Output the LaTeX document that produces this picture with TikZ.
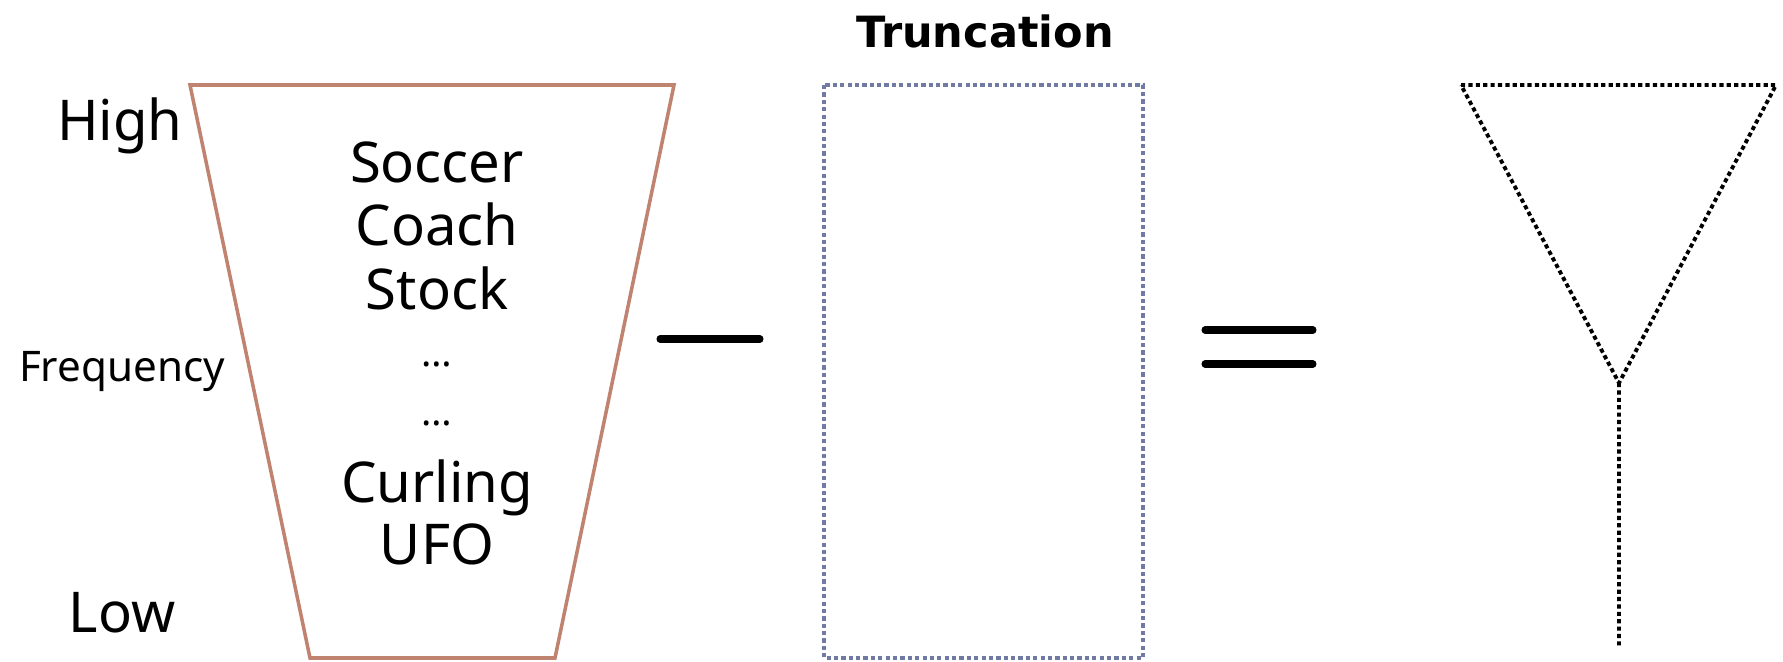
\documentclass[tikz,border=0pt]{standalone}
\usepackage{fontspec}
\setmainfont{Noto Sans}
\newfontfamily\titulo{DejaVu Sans}
\definecolor{embudo}{RGB}{191,131,112}
\definecolor{corte}{RGB}{112,122,163}

\begin{document}
\begin{tikzpicture}[x=0.02cm,y=-0.02cm,line width=2pt,
  palabra/.style={anchor=base,inner sep=0pt,font=\fontsize{32}{38}\selectfont},
  puntos/.style={palabra,font=\fontsize{22}{26}\selectfont},
  punteado/.style={dash pattern=on 2.4pt off 1.8pt},
  signo/.style={line width=4pt,line cap=round}]
  \useasboundingbox (0,0) rectangle (1783,662);
  % embudo de palabras (frecuencia)
  \coordinate (TL) at (190,85);  \coordinate (TR) at (674,85);
  \coordinate (BR) at (555,658); \coordinate (BL) at (310,658);
  \draw[embudo,line join=miter] (TL)--(TR)--(BR)--(BL)--cycle;
  \foreach \w/\y [count=\i] in {Soccer/183,Coach/246,Stock/310,Curling/502,UFO/564}
    \node[palabra] (w\i) at (437,\y) {\w};
  \node[puntos] (d1) at (437,367) {…};
  \node[puntos] (d2) at (437,425) {…};
  \node[palabra] (high) at (120,141) {High};
  \node[palabra,font=\fontsize{24}{28}\selectfont] (freq) at (122,381) {Frequency};
  \node[palabra] (low) at (122,632) {Low};
  % signo menos
  \coordinate (m1) at (660,339); \coordinate (m2) at (760,339);
  \draw[signo] (m1)--(m2);
  % truncamiento
  \node[palabra,font=\titulo\bfseries\fontsize{24.5}{30}\selectfont] (trunc) at (985,48) {Truncation};
  \draw[corte,punteado,line width=2.2pt] (824,85) rectangle (1143,658);
  % signo igual
  \coordinate (e1) at (1205,330); \coordinate (e2) at (1313,330);
  \coordinate (e3) at (1205,364); \coordinate (e4) at (1313,364);
  \draw[signo] (e1)--(e2) (e3)--(e4);
  % resultado: triangulo con tallo
  \coordinate (A) at (1461,85); \coordinate (B) at (1776,85);
  \coordinate (V) at (1619,383); \coordinate (S) at (1619,646);
  \draw[punteado,line width=2.2pt] (A)--(B)--(V)--cycle (V)--(S);
\end{tikzpicture}
\end{document}
